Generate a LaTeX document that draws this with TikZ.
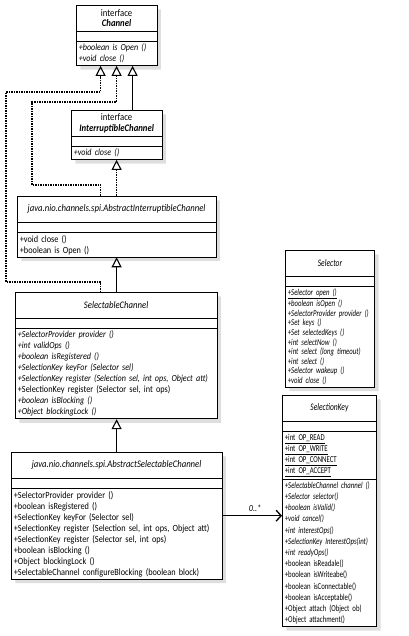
\documentclass[tikz,border=0pt]{standalone}
\usepackage{fontspec}
\setmainfont{Carlito}[FakeStretch=0.87]
\newfontfamily\keyfont{Carlito}[FakeStretch=0.75]
\usetikzlibrary{shapes.multipart,arrows.meta,shadows}
\tikzset{classbox/.style={draw, line width=.7pt, fill=white,
        rectangle split, rectangle split parts=3,
        anchor=north west, inner xsep=2.5pt, inner ysep=2pt,
        align=left, text width=#1,
        font=\fontsize{9.5}{11}\selectfont,
        drop shadow={shadow xshift=4pt, shadow yshift=-4pt, fill=black!25}
    },
    genline/.style={line width=1.1pt,
        -{Triangle[open, length=10pt, width=10pt, line width=1.1pt]}},
    realline/.style={genline, dash pattern=on 1.5pt off 1pt},
    assocline/.style={line width=1.1pt,
        -{Straight Barb[length=5pt, width=11pt, line width=1.3pt]}}
}
\newcommand{\ctitle}[1]{\parbox[c][21pt][c]{\hsize}{\centering\fontsize{10}{11}\selectfont #1}}
\newcommand{\ititle}[1]{\parbox[c][21pt][c]{\hsize}{\centering\fontsize{10}{10.5}\selectfont interface\\\textbf{\textit{#1}}}}
\newcommand{\noattr}{\rule{0pt}{6pt}}
\newcommand{\im}[1]{{\fontsize{9.3}{11}\itshape #1}}

\begin{document}
\begin{tikzpicture}[x=1pt, y=-1pt]
        \fill[white] (0,0) rectangle (408,636);
        \useasboundingbox (0,0) rectangle (408,636);
        % interfaces
        \node[classbox=75.5pt] (chan) at (76,5) {\ititle{Channel}
            \nodepart{two}\noattr
            \nodepart{three}\im{+boolean is Open ()}\\\im{+void close ()}};
        \node[classbox=85.5pt] (intr) at (71,110) {\ititle{InterruptibleChannel}
            \nodepart{two}\noattr
            \nodepart{three}\im{+void close ()}};
        % channel classes
        \node[classbox=193.5pt] (ai) at (17,196) {\ctitle{\textit{java.nio.channels.spi.AbstractInterruptibleChannel}}
            \nodepart{two}\noattr
            \nodepart{three}+void close ()\\+boolean is Open ()};
        \node[classbox=196.5pt] (sel) at (15,292) {\ctitle{\textit{SelectableChannel}}
            \nodepart{two}\noattr
            \nodepart{three}\im{+SelectorProvider provider ()}\\
            \im{+int validOps ()}\\
            \im{+boolean isRegistered ()}\\
            \im{+SelectionKey keyFor (Selector sel)}\\
            \im{+SelectionKey register (Selection sel, int ops, Object att)}\\
            +SelectionKey register (Selector sel, int ops)\\
            \im{+boolean isBlocking ()}\\
            \im{+Object blockingLock ()}};
        \node[classbox=205.5pt] (asel) at (11,452) {\ctitle{\textit{java.nio.channels.spi.AbstractSelectableChannel}}
            \nodepart{two}\noattr
            \nodepart{three}+SelectorProvider provider ()\\
            +boolean isRegistered ()\\
            +SelectionKey keyFor (Selector sel)\\
            +SelectionKey register (Selection sel, int ops, Object att)\\
            +SelectionKey register (Selector sel, int ops)\\
            +boolean isBlocking ()\\
            +Object blockingLock ()\\
            +SelectableChannel configureBlocking (boolean block)};
        % selector side
        \node[classbox=84.3pt, font=\keyfont\fontsize{9}{9.6}\selectfont] (selr) at (285,250) {\ctitle{\textit{Selector}}
            \nodepart{two}\noattr
            \nodepart{three}\textit{\underline{+Selector open ()}}\\
            \textit{+boolean isOpen ()}\\
            \textit{+SelectorProvider provider ()}\\
            \textit{+Set keys ()}\\
            \textit{+Set selectedKeys ()}\\
            \textit{+int selectNow ()}\\
            \textit{+int select (long timeout)}\\
            \textit{+int select ()}\\
            \textit{+Selector wakeup ()}\\
            \textit{+void close ()}};
        \node[classbox=89.3pt, rectangle split parts=4, font=\keyfont\fontsize{9}{11.2}\selectfont] (skey) at (282,395) {\ctitle{\textit{SelectionKey}}
            \nodepart{two}\noattr
            \nodepart{three}\underline{+int OP\_READ}\\
            \underline{+int OP\_WRITE}\\
            \underline{+int OP\_CONNECT}\\
            \underline{+int OP\_ACCEPT}
            \nodepart{four}\textit{+SelectableChannel channel ()}\\
            \textit{+Selector selector()}\\
            \textit{+boolean isValid()}\\
            \textit{+void cancel()}\\
            \textit{+int interestOps()}\\
            \textit{+SelectionKey InterestOps(int)}\\
            \textit{+int readyOps()}\\
            +boolean isReadale()\\
            +boolean isWriteabe()\\
            +boolean isConnectable()\\
            +boolean isAcceptable()\\
            +Object attach (Object ob)\\
            +Object attachment()};
        % tips under Channel
        \coordinate (c1) at ([xshift=-16pt]chan.south);
        \coordinate (c2) at (chan.south);
        \coordinate (c3) at ([xshift=16pt]chan.south);
        \draw[genline] (intr.north -| c3) -- (c3);
        \draw[realline] (sel.north -| c1) |- (6,282) -- (6,92) -| (c1);
        \draw[realline] (ai.north -| c1) |- (32,185) -- (32,102) -| (c2);
        \draw[realline] (ai.north -| c2) -- (intr.south -| c2);
        \draw[genline] (sel.north -| c2) -- (ai.south -| c2);
        \draw[genline] (asel.north -| c2) -- (sel.south -| c2);
        \draw[assocline] (asel.east) -- (asel.east -| skey.west)
            node[pos=.55, above, font=\fontsize{9.3}{10}\itshape] {0..*};
    \end{tikzpicture}
\end{document}
